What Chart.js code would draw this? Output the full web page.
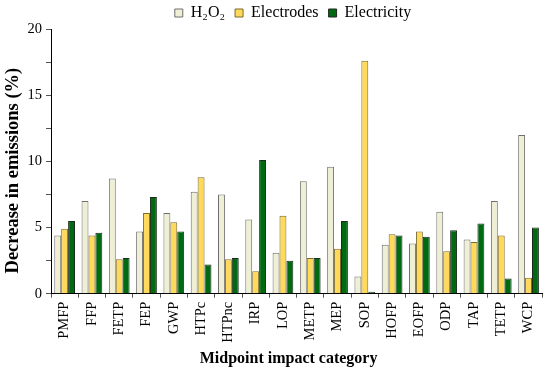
<!DOCTYPE html>
<html><head><meta charset="utf-8">
<script src="https://cdn.jsdelivr.net/npm/chart.js@4.4.0/dist/chart.umd.min.js"></script>
<style>html,body{margin:0;padding:0;background:#fff}#wrap{width:550px;height:374px}</style>
</head><body><div id="wrap"><canvas id="c" width="550" height="374"></canvas></div>
<script>
const categories = ["PMFP","FFP","FETP","FEP","GWP","HTPc","HTPnc","IRP","LOP","METP","MEP","SOP","HOFP","EOFP","ODP","TAP","TETP","WCP"];
const h2o2 =        [4.4, 7.0, 8.7, 4.7, 6.1, 7.7, 7.5, 5.6, 3.1, 8.5, 9.6, 1.3, 3.7, 3.8, 6.2, 4.1, 7.0, 12.0];
const electrodes =  [4.9, 4.4, 2.6, 6.1, 5.4, 8.8, 2.6, 1.7, 5.9, 2.7, 3.4, 17.6, 4.5, 4.7, 3.2, 3.9, 4.4, 1.2];
const electricity = [5.5, 4.6, 2.7, 7.3, 4.7, 2.2, 2.7, 10.1, 2.5, 2.7, 5.5, 0.15, 4.4, 4.3, 4.8, 5.3, 1.15, 5.0];
const yTicks = [0, 5, 10, 15, 20];
const seriesNames = ["H\u2082O\u2082", "Electrodes", "Electricity"];

const font = "'Liberation Serif', 'Times New Roman', serif";
const shiftLegend = {
  id: 'shiftLegend',
  afterLayout(chart) {
    const l = chart.legend;
    if (l) { l.left += 17; l.right += 17; l.top += 2; l.bottom += 2; }
  }
};
new Chart(document.getElementById('c'), {
  type: 'bar',
  data: {
    labels: categories,
    datasets: [
      {label: seriesNames[0], data: h2o2, backgroundColor: '#EFEFD6', borderColor: '#6e6e6e', borderWidth: 1},
      {label: seriesNames[1], data: electrodes, backgroundColor: '#FFD95A', borderColor: '#7a6a30', borderWidth: 1},
      {label: seriesNames[2], data: electricity, backgroundColor: '#006A12', borderColor: '#1f2a1f', borderWidth: 1}
    ]
  },
  plugins: [shiftLegend],
  options: {
    responsive: false,
    animation: false,
    devicePixelRatio: 1,
    datasets: {bar: {categoryPercentage: 0.76, barPercentage: 1.0}},
    layout: {padding: {left: 4, right: 2, top: -7, bottom: 6}},
    plugins: {
      legend: {
        position: 'top',
        labels: {font: {family: font, size: 16}, color: '#000', boxWidth: 8, boxHeight: 8, padding: 10, useBorderRadius: false},
      },
      tooltip: {enabled: false}
    },
    scales: {
      x: {
        grid: {display: true, drawOnChartArea: false, offset: true, color: '#000', tickLength: 4, tickColor: '#555'},
        border: {display: true, color: '#000', width: 1},
        ticks: {font: {family: font, size: 14.5}, color: '#000', maxRotation: 90, minRotation: 90, padding: 4},
        title: {display: true, text: 'Midpoint impact category    ', font: {family: font, size: 16, weight: 'bold'}, color: '#000', padding: {top: 2, bottom: 0}}
      },
      y: {
        min: 0, max: 20,
        grid: {display: true, drawOnChartArea: false, color: '#000', tickLength: 5, tickColor: '#555'},
        border: {display: true, color: '#000', width: 1},
        ticks: {stepSize: 2.5, autoSkip: false, font: {family: font, size: 14.5}, color: '#000', padding: 4,
          callback: (v) => yTicks.includes(v) ? String(v) : ''},
        title: {display: true, text: 'Decrease in emissions (%)    ', font: {family: font, size: 18.5, weight: 'bold', lineHeight: 1.0}, color: '#000', padding: {top: 0, bottom: 1}}
      }
    }
  }
});
</script></body></html>
